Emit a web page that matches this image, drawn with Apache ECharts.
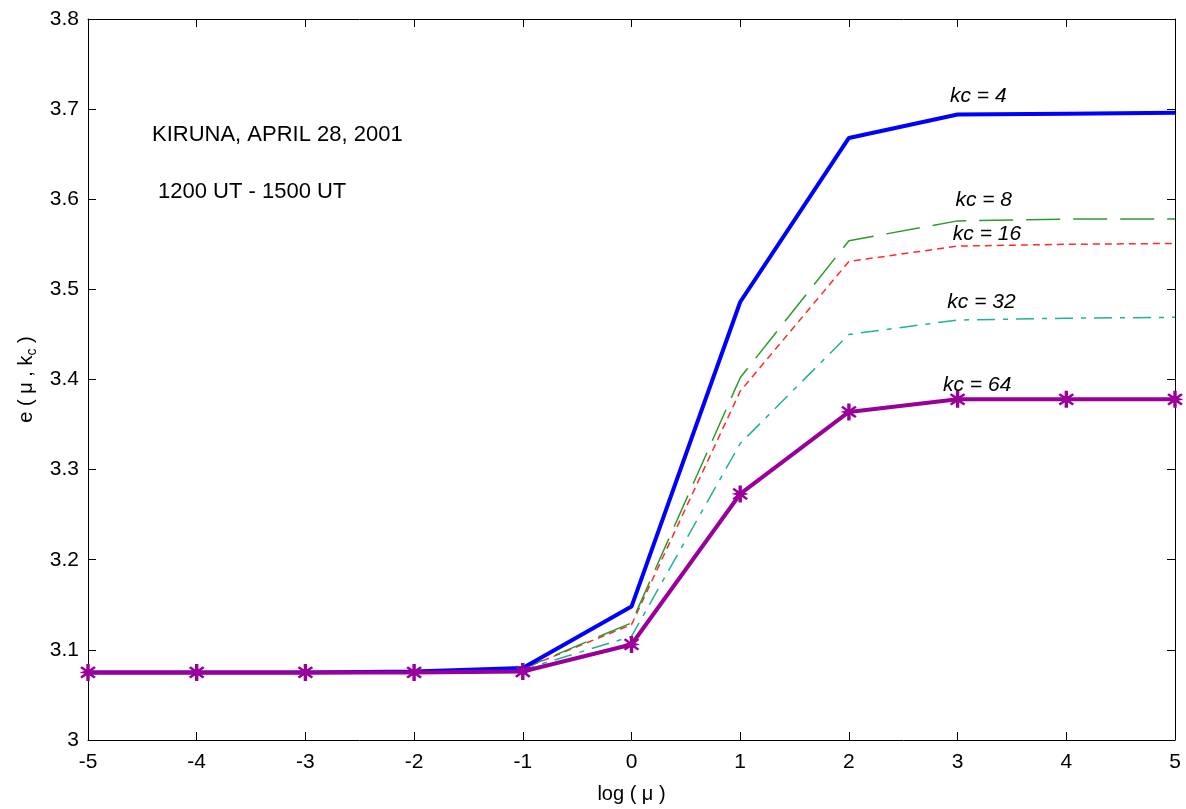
<!DOCTYPE html>
<html><head><meta charset="utf-8">
<script src="https://cdn.jsdelivr.net/npm/echarts@6/dist/echarts.min.js"></script>
<style>html,body{margin:0;padding:0;background:#fff}#c{width:1186px;height:809px}</style>
</head><body><div id="c"></div>
<script>
const xValues = [-5, -4, -3, -2, -1, 0, 1, 2, 3, 4, 5];
const kc4  = [3.075, 3.075, 3.075, 3.076, 3.080, 3.148, 3.486, 3.668, 3.694, 3.695, 3.696];
const kc8  = [3.075, 3.075, 3.075, 3.075, 3.079, 3.130, 3.402, 3.554, 3.576, 3.578, 3.578];
const kc16 = [3.075, 3.075, 3.075, 3.075, 3.079, 3.128, 3.387, 3.531, 3.548, 3.550, 3.551];
const kc32 = [3.075, 3.075, 3.075, 3.075, 3.078, 3.115, 3.329, 3.450, 3.466, 3.468, 3.469];
const kc64 = [3.075, 3.075, 3.075, 3.075, 3.076, 3.106, 3.273, 3.364, 3.378, 3.378, 3.378];
const yTicks = [3, 3.1, 3.2, 3.3, 3.4, 3.5, 3.6, 3.7, 3.8];
const labels = [
  {text: 'kc = 4',  x: 3.19, y: 3.714},
  {text: 'kc = 8',  x: 3.24, y: 3.599},
  {text: 'kc = 16', x: 3.27, y: 3.561},
  {text: 'kc = 32', x: 3.22, y: 3.486},
  {text: 'kc = 64', x: 3.18, y: 3.394}
];
const pts = a => xValues.map((x, i) => [x, a[i]]);
const font = '"Liberation Sans", Arial, sans-serif';
const star = 'path://M4,0 L6,0 L6,3.2 L8.6,1.4 L9.6,2.4 L7.2,4.2 L10,5 L7.2,5.8 L9.6,7.6 L8.6,8.6 L6,6.8 L6,10 L4,10 L4,6.8 L1.4,8.6 L0.4,7.6 L2.8,5.8 L0,5 L2.8,4.2 L0.4,2.4 L1.4,1.4 L4,3.2 Z';
const chart = echarts.init(document.getElementById('c'));
const axisCommon = {
  axisLine: {show: true, onZero: false, lineStyle: {color: '#000', width: 1}},
  axisTick: {show: true, inside: true, length: 8, lineStyle: {color: '#000'}},
  splitLine: {show: false}
};
chart.setOption({
  animation: false,
  backgroundColor: '#fff',
  grid: {left: 88, right: 11, top: 19, bottom: 68, containLabel: false},
  xAxis: [
    Object.assign({}, axisCommon, {type: 'value', min: -5, max: 5, interval: 1, position: 'bottom',
      name: 'log ( μ )', nameLocation: 'middle', nameGap: 44,
      nameTextStyle: {fontFamily: font, fontSize: 20, color: '#000'},
      axisLabel: {fontFamily: font, fontSize: 21, color: '#000', margin: 12}}),
    Object.assign({}, axisCommon, {type: 'value', min: -5, max: 5, interval: 1, position: 'top',
      axisLabel: {show: false}})
  ],
  yAxis: [
    Object.assign({}, axisCommon, {type: 'value', min: 3, max: 3.8, interval: 0.1, position: 'left',
      name: '{n|e ( μ , k}{s|c}{n| )}', nameLocation: 'middle', nameGap: 48, nameRotate: 90,
      nameTextStyle: {rich: {n: {fontFamily: font, fontSize: 20, color: '#000'}, s: {fontFamily: font, fontSize: 14, color: '#000', verticalAlign: 'bottom', padding: [10, 0, 0, 0]}}},
      axisLabel: {fontFamily: font, fontSize: 21, color: '#000', margin: 9,
        formatter: v => { const t = yTicks.find(k => Math.abs(k - v) < 1e-6); return t === undefined ? '' : String(t); }}}),
    Object.assign({}, axisCommon, {type: 'value', min: 3, max: 3.8, interval: 0.1, position: 'right',
      axisLabel: {show: false}})
  ],
  graphic: [
    {type: 'text', left: 152, top: 124, style: {text: 'KIRUNA, APRIL 28, 2001', font: '22px ' + font, fill: '#000'}},
    {type: 'text', left: 158, top: 181, style: {text: '1200 UT - 1500 UT', font: '22px ' + font, fill: '#000'}}
  ],
  series: [
    {type: 'line', data: pts(kc32), symbol: 'none', lineStyle: {color: '#22b09a', width: 1.5, type: [18, 8, 5, 8]}, z: 2},
    {type: 'line', data: pts(kc16), symbol: 'none', lineStyle: {color: '#ff2a2a', width: 1.5, type: [7, 5]}, z: 3},
    {type: 'line', data: pts(kc8), symbol: 'none', lineStyle: {color: '#2e9a2e', width: 1.5, type: [34, 13]}, z: 4},
    {type: 'line', data: pts(kc4), symbol: 'none', lineStyle: {color: '#0000ff', width: 4}, z: 5},
    {type: 'line', data: pts(kc64), symbol: star, symbolSize: 17, itemStyle: {color: '#990099'},
      lineStyle: {color: '#990099', width: 4}, z: 6},
    {type: 'scatter', data: labels.map(l => [l.x, l.y, l.text]), symbol: 'circle', symbolSize: 1,
      itemStyle: {color: '#ffffff', opacity: 1}, z: 7, silent: true,
      label: {show: true, position: 'inside', formatter: p => p.data[2],
        fontFamily: font, fontStyle: 'italic', fontSize: 21, color: '#000000',
        textBorderWidth: 0, opacity: 1}}
  ]
});
</script></body></html>
